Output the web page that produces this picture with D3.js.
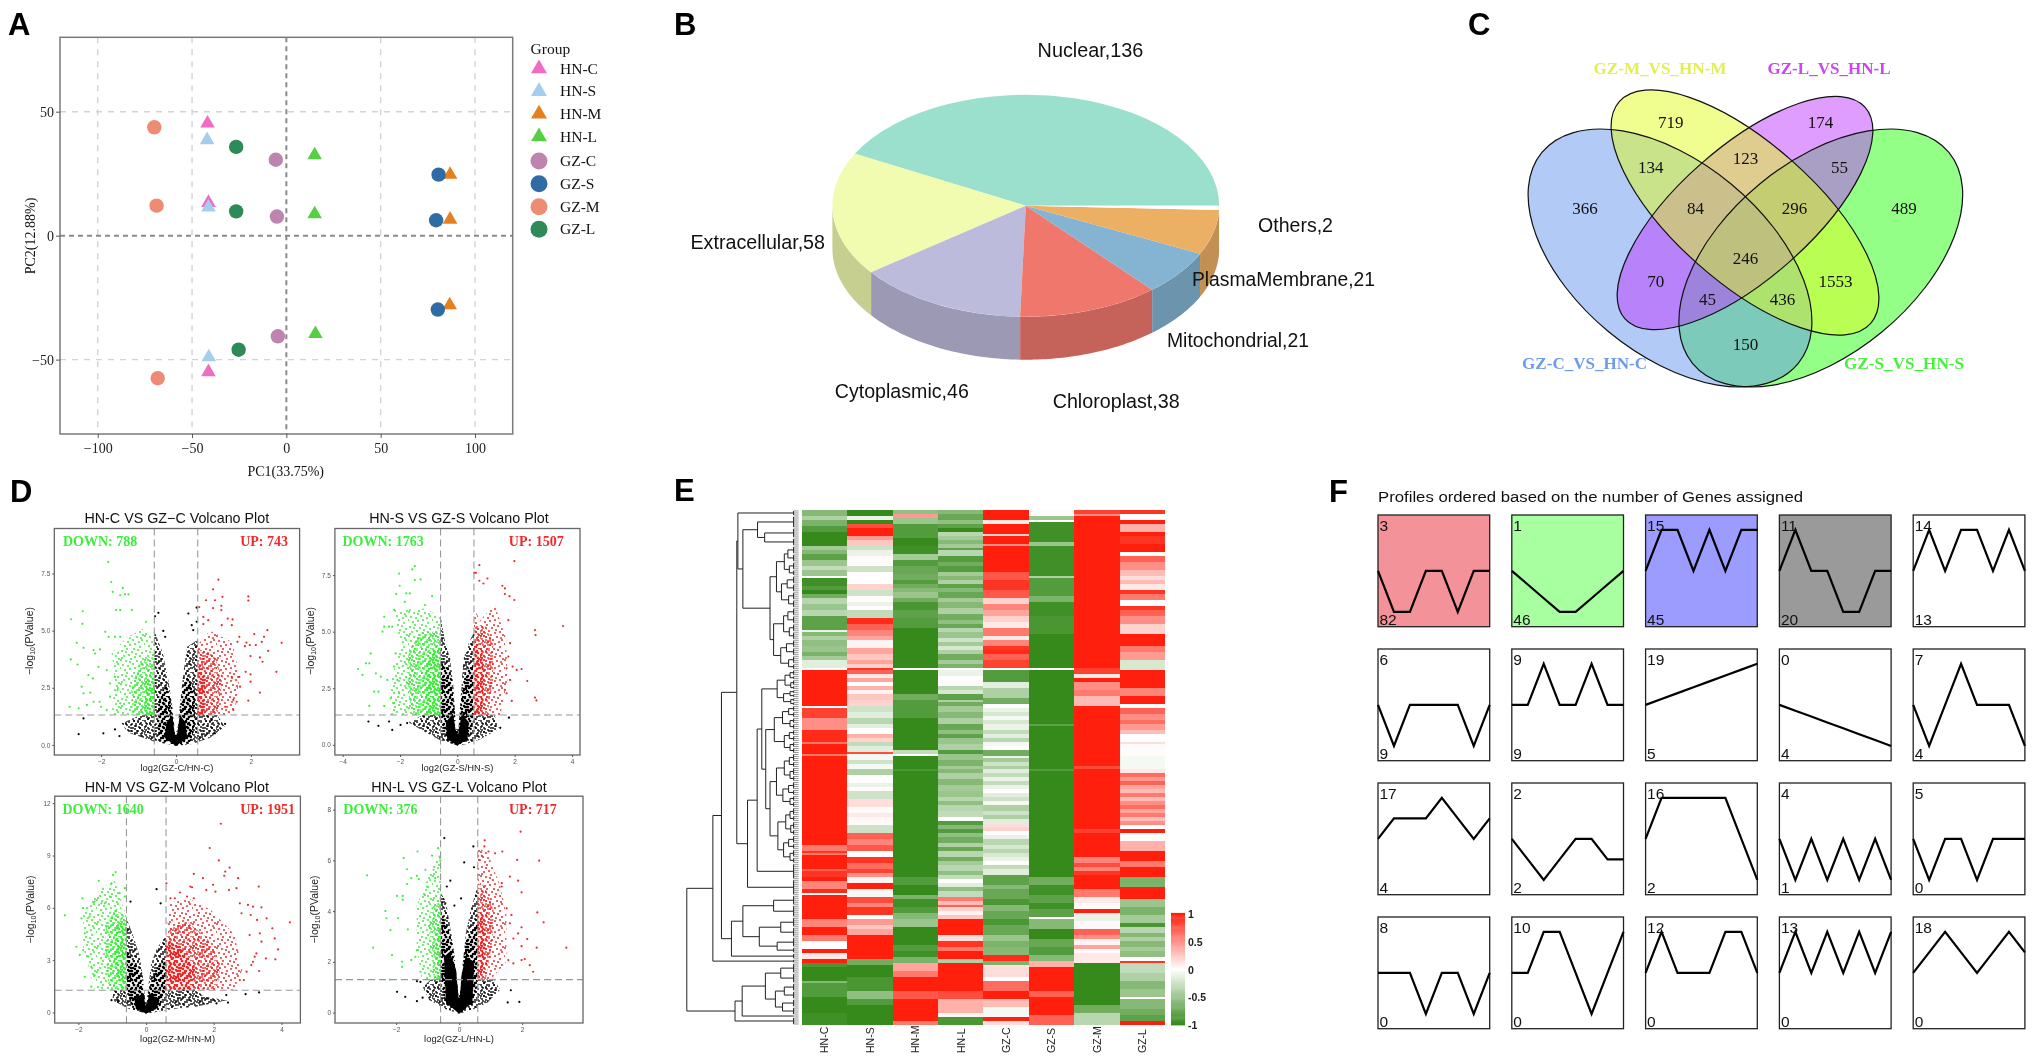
<!DOCTYPE html>
<html><head><meta charset="utf-8">
<style>
html,body{margin:0;padding:0;background:#fff}
svg{display:block;filter:blur(0.35px)}
text{font-family:"Liberation Sans",Arial,sans-serif;fill:#111}
.serif text,text.serif{font-family:"Liberation Serif",serif}
</style>
<script src="https://cdn.jsdelivr.net/npm/d3@7"></script>
</head><body><svg id="c" width="2033" height="1058"></svg>
<script>
// ---------- Panel A data ----------
const pcaGroups=["HN-C","HN-S","HN-M","HN-L","GZ-C","GZ-S","GZ-M","GZ-L"];
const pcaColors=["#F06CC4","#A5CEEE","#E67F1E","#57CF45","#BC84AE","#2F6CA6","#EE8B75","#2E8B57"];
const pcaPc1=[[-41.8,-41.3,-41.3],[-42,-41.3,-41.1],[86.8,86.8,86.6],[15,15,15.4],[-5.6,-5,-4.5],[80.7,79.4,80.3],[-70,-68.8,-68.2],[-26.6,-26.6,-25.3]];
const pcaPc2=[[45.3,13.3,-55],[38.6,11.4,-49],[24.6,6.5,-28],[32.5,8.7,-39.6],[30.6,7.7,-40.6],[24.6,6.2,-29.8],[43.7,12.1,-57.5],[35.8,9.8,-46]];
const pcaXTicks=[-100,-50,0,50,100];
const pcaYTicks=[-50,0,50];
// ---------- Panel B data ----------
const pieLabels=["Nuclear","Extracellular","Cytoplasmic","Chloroplast","Mitochondrial","PlasmaMembrane","Others"];
const pieValues=[136,58,46,38,21,21,2];
const pieColors=["#9BE0CC","#F1FCB0","#BDBBDC","#F0776C","#84B4D2","#EBB064","#FFFFFF"];
// ---------- Panel C data ----------
const vennLabels=["GZ-C_VS_HN-C","GZ-M_VS_HN-M","GZ-L_VS_HN-L","GZ-S_VS_HN-S"];
const vennNumbers=[719,174,134,123,55,366,84,296,489,246,70,1553,45,436,150];
// ---------- Panel D data (log2FC, -log10 P) ----------
const v1GreenPts=[[-1.81,8],[-1.73,7.13],[-1.42,6.87],[-1.69,6.7],[-1.49,6.55],[-1.36,6.59],[-1.27,6.59],[-2.49,5.85],[-1.6,5.9],[-1.49,5.9],[-1.18,5.9],[-2.8,5.5],[-2.5,5.3],[-.8,5.39],[-2.65,4.47],[-2.47,4.25],[-2.81,3.74],[-2.63,3.52],[-2.2,4.15],[-2.03,4.18],[-1.89,4.95],[-1.8,4.73],[-1.63,4.73],[-1.49,4.73],[-2.16,4],[-2.07,3.42],[-2.34,3.06],[-2.22,2.91],[-2.52,2.55],[-2.47,2.26],[-2.29,2.29],[-2.84,1.67],[-2.6,1.6],[-2.2,1.89],[-2.04,1.89],[-2,1.67],[-2.38,1.75],[-1.85,3.28],[-1.76,2.69],[-1.76,2.11],[-1.85,1.53],[-1.63,2.98],[-1.56,2.4],[-1.49,1.82]];
const v1RedPts=[[1.13,7.23],[.99,6.81],[1.93,6.5],[1.93,6.32],[1.24,6.48],[1.04,6.33],[.8,6.33],[.99,5.99],[1.21,6.09],[1.21,5.9],[.62,6.03],[.73,5.6],[.86,5.46],[.73,5.29],[1.38,5.53],[1.51,5.49],[1.22,5.24],[1.49,5.24],[2.44,5.02],[2.09,4.85],[2.35,4.73],[2.29,4.51],[2.82,4.47],[1.88,4.48],[1.97,4.37],[1.84,4.32],[2.13,4.37],[1.69,4.73],[1.64,4.51],[2.46,4.12],[1.99,3.89],[2.24,3.83],[2.31,3.64],[2.68,3.2],[2.24,2.29],[1.93,1.94],[1.86,3.2],[1.69,2.98],[1.99,3.09],[1.99,2.77],[1.71,2.55],[1.49,2.98],[1.53,1.97],[1.62,1.89],[1.53,1.53],[1.31,1.67]];
const v1BlackPts=[[-2.47,1.16],[-2.6,.47],[-1.94,.51],[-1.63,.68],[-1.51,.39],[-.56,5.63],[-.47,5.78],[-.34,4.99],[-.29,4.73],[.33,5.75],[.55,6.01],[.42,5.24],[.46,5.02],[.55,5.39],[1.31,.92],[1.04,.51],[.95,1.09]];
const v1GreenCloud=[[-.58,1.31],[-1.72,1.31],[-1.63,2.9],[-1.72,4],[-1.32,4.7],[-.87,5.1],[-.58,4.6]];
const v1GreenCore=[[-.58,1.31],[-1.15,1.31],[-1.2,2.4],[-1,3.5],[-.58,4]];
const v1GreenDense=[[-.58,1.31],[-.85,1.31],[-.8,2.9],[-.58,3]];
const v1RedCloud=[[.58,1.31],[1.55,1.31],[1.7,3],[1.5,4.5],[.9,5],[.58,4.4]];
const v1RedCore=[[.58,1.31],[1.1,1.31],[1.25,2.9],[1,4],[.58,4.2]];
const v1RedDense=[[.58,1.31],[.75,1.31],[.8,3.2],[.58,3.4]];
const v1BlackCloud=[[0,-.03],[-.6,.15],[-1.3,.55],[-1.45,.95],[-.95,1.31],[-.58,1.31],[-.58,5],[-.35,4],[-.2,2.8],[-.1,1.7],[-.03,.6],[.03,.6],[.1,1.7],[.2,3.2],[.3,4.3],[.58,4.6],[.58,1.31],[1.1,1.31],[1.3,.8],[.9,.3],[.4,.03]];
const v1BlackCore=[[-.03,.5],[-.15,2],[-.25,2.6],[-.45,2.2],[-.5,.8],[-.4,.15],[0,-.03],[.4,.15],[.5,.9],[.5,2.4],[.3,3],[.17,2.4],[.05,.5]];
const v1BlackSolid=[[-.03,.45],[-.1,1.3],[-.25,1],[-.3,.3],[0,-.03],[.3,.3],[.25,1],[.1,1.3],[.03,.45]];

const v2GreenPts=[[-1.48,7.9],[-1.57,7.75],[-2.03,7.57],[-1.28,7.31],[-1.48,7.28],[-2.01,7.03],[-2.13,6.66],[-1.78,6.69],[-1.66,6.69],[-1.83,6.32],[-1.13,6.18],[-.88,6.57],[-2.2,5.96],[-2.55,5.22],[-2.38,5.22],[-2.61,5],[-2.27,5.22],[-2.55,5.66],[-3.02,4.04],[-3.19,3.6],[-3.07,3.6],[-3.46,3.35],[-3.31,3.09],[-2.84,3.16],[-2.67,3.01],[-2.9,2.35],[-2.75,2.35],[-3.07,1.72],[-2.55,1.72],[-2.32,2.06],[-2.44,2.87],[-2.15,4.04],[-2.21,3.46],[-2.09,2.87],[-2.03,2.28],[-2.21,1.84]];
const v2RedPts=[[1.99,8.12],[.77,7.94],[.65,7.6],[.59,7.6],[.77,7.25],[1.05,7.35],[.91,7.13],[1.57,7.03],[1.66,6.91],[1.82,6.57],[1.66,6.66],[1.99,6.4],[3.69,5.25],[2.71,5.07],[2.73,4.85],[2.24,3.35],[2.07,3.31],[1.93,3.46],[1.72,3.38],[2.44,2.82],[2.71,2.09],[2.76,1.96],[1.9,1.94],[1.66,2.43],[1.84,2.87],[1.78,5.51],[1.84,4.49],[1.78,3.9],[1.72,2.28]];
const v2BlackPts=[[-3.1,1.03],[-2.75,.84],[-2.27,.66],[-1.98,.88],[-2.38,1.03],[-1.75,.96],[1.8,1.2],[1.5,.75]];
const v2GreenCloud=[[-.58,1.32],[-2.32,1.32],[-2.32,2.87],[-1.98,4.34],[-2.2,5.96],[-1.11,6.03],[-.58,5.66]];
const v2GreenCore=[[-.58,1.32],[-1.57,1.32],[-1.8,2.87],[-1.69,4.2],[-1.23,5],[-.58,5]];
const v2GreenDense=[[-.58,1.32],[-1.1,1.32],[-1.15,3.2],[-.95,4.2],[-.58,4.3]];
const v2RedCloud=[[.59,1.32],[1.5,1.32],[1.75,2.87],[1.7,4.7],[1.3,6.2],[.8,5.5],[.59,6]];
const v2RedCore=[[.59,1.32],[1.05,1.32],[1.25,2.9],[1.25,4.5],[.95,5.3],[.59,5.3]];
const v2RedDense=[[.59,1.32],[.85,1.32],[.95,3],[.85,4.3],[.59,4.6]];
const v2BlackCloud=[[0,-.03],[-.6,.2],[-1.25,.65],[-1.7,1],[-1.2,1.32],[-.58,1.32],[-.58,5.7],[-.45,4.7],[-.25,3.8],[-.13,2.5],[-.04,.7],[.04,.7],[.14,2.5],[.22,3.8],[.4,4.5],[.59,5],[.59,1.32],[1.3,1.32],[1.45,.7],[.8,.25],[.3,.03]];
const v2BlackCore=[[-.04,.6],[-.15,2.2],[-.25,3.3],[-.55,3.6],[-.55,1],[-.35,.2],[0,-.03],[.35,.2],[.55,1],[.55,3.5],[.3,3.3],[.15,2.2],[.04,.6]];
const v2BlackSolid=[[-.04,.5],[-.15,1.4],[-.4,1],[-.35,.25],[0,-.03],[.35,.25],[.4,1],[.15,1.4],[.04,.5]];

const v3GreenPts=[[-.9,8.05],[-1.4,7.55],[-.98,7.89],[-1.02,7.41],[-2.4,5.57],[-1.88,6.55],[-1.86,5.98],[-1.52,6.36],[-1.32,6.26],[-1.91,5.4],[-1.67,5.5],[-1.81,4.54],[-2.06,3.77],[-1.86,3.58],[-1.96,3.3],[-1.71,3.2],[-1.62,2.62],[-1.52,2.13],[-1.62,1.48],[-1.81,2.05],[-.63,7.13],[-.63,6.65],[-.78,6.84],[-1.07,6.65],[-1.22,6.26]];
const v3RedPts=[[2.21,10.82],[1.88,9.43],[2.15,8.72],[2.47,8.31],[2.34,8.08],[2.31,7.84],[2.72,7.7],[1.68,7.7],[1.41,7.95],[3.33,7.22],[2.67,7.13],[2.45,7.03],[1.98,7.32],[1.78,7.03],[2.05,6.93],[1.31,7.22],[1.36,7.18],[.6,7.41],[1,6.88],[1.21,6.65],[.72,6.55],[.85,6.55],[1.41,6.55],[3.01,6.17],[3.16,6.07],[3.41,6.03],[2.77,6.26],[4.25,5.17],[3.56,5.4],[3.73,4.83],[3.28,5.31],[3.09,5.59],[2.82,5.69],[3.8,4.25],[3.9,3.62],[3.82,3.05],[3.54,3.1],[3.36,4.54],[3.41,4.06],[3.06,4.44],[3.16,2.91],[3.21,3.2],[3.11,2.72],[2.97,2.34],[3.34,2.38],[2.89,1.86],[2.77,1.86],[3.26,3.39]];
const v3BlackPts=[[-.46,6.36],[.31,7.07],[.43,6.26],[-1.02,.71],[-.83,.61],[2.08,.52],[2.42,.57],[2.94,1.05],[3.34,1.15],[2.37,1],[1.83,.8]];
const v3GreenCloud=[[-.58,1.3],[-1.52,1.3],[-1.86,3.77],[-1.86,5.88],[-1.37,7.03],[-.93,7.6],[-.58,5.5]];
const v3GreenCore=[[-.58,1.3],[-1.1,1.3],[-1.2,3.3],[-1.2,4.9],[-.9,6],[-.58,5.4]];
const v3GreenDense=[[-.58,1.3],[-.75,1.3],[-.95,3],[-.9,5],[-.58,5.2]];
const v3RedCloud=[[.59,1.3],[2.6,1.3],[2.85,2.5],[2.6,4.5],[1.9,5.9],[1.3,6.5],[.7,6.3],[.59,4.3]];
const v3RedCore=[[.59,1.3],[2.1,1.3],[2.2,2.8],[1.8,4.3],[1.2,5.2],[.7,4.8],[.59,4.3]];
const v3RedDense=[[.59,1.3],[1.4,1.3],[1.45,2.6],[1,3.8],[.59,4.2]];
const v3BlackCloud=[[0,-.05],[-.5,.2],[-1,.7],[-.95,1.3],[-.58,1.3],[-.58,5.4],[-.4,4.5],[-.2,3.3],[-.08,1.9],[-.02,.6],[.02,.6],[.08,1.7],[.15,2.8],[.3,3.6],[.59,4.5],[.59,1.3],[1.5,1.3],[1.7,.9],[2.4,.7],[1.5,.35],[.8,.2],[.3,.03]];
const v3BlackCore=[[-.02,.5],[-.1,1.6],[-.2,2.5],[-.56,3.5],[-.56,1.3],[-.4,.3],[0,-.05],[.4,.3],[.57,1.3],[.57,3.1],[.3,2.5],[.15,1.7],[.02,.5]];
const v3BlackSolid=[[-.02,.4],[-.08,1.1],[-.35,.8],[-.3,.2],[0,-.05],[.3,.2],[.4,.7],[.1,1.1],[.02,.4]];

const v4GreenPts=[[-2.92,5.41],[-.67,6.48],[-.86,6.19],[-1.32,6.35],[-1.76,6.09],[-.62,6.15],[-.6,5.99],[-1.65,5.65],[-1.52,5.3],[-1.34,5.39],[-1.28,5.26],[-1.65,5.07],[-1.97,4.6],[-1.79,4.6],[-1.79,4.44],[-2.34,4],[-2.31,3.72],[-1.94,3.72],[-2.18,3.25],[-1.63,3.28],[-2.73,2.56],[-2.13,2.27],[-1.81,2],[-1.81,1.8],[-1.52,2.07],[-1.34,2.46],[-1.23,1.61],[-1.39,2.2],[-2.2,1.3],[-1.07,5.63],[-.81,5.63],[-1.02,4.97],[-.76,5.3],[-1.09,4.64]];
const v4RedPts=[[1.95,7.13],[.81,6.79],[.8,6.55],[.93,6.35],[1.14,6.28],[1.37,6.35],[.63,6.02],[.72,6.18],[1.84,6.02],[2.54,5.99],[1.61,5.36],[1.87,5.2],[1.98,4.74],[1.35,4.97],[1.35,5.1],[2.48,3.95],[2.68,3.56],[3.4,2.56],[2.46,2.56],[2.16,2.9],[1.98,3.36],[1.72,2.92],[1.87,3.12],[1.98,2.62],[1.98,2.07],[2.08,2.11],[1.72,1.94],[2.24,1.87],[2.35,1.61],[1.56,2.07],[1.61,3.52],[1.66,3.85],[1.51,4.11]];
const v4BlackPts=[[-.47,6.88],[.45,6.55],[.16,5.92],[.47,5.73],[-.39,4.97],[-.28,5.2],[.06,4.5],[-.15,4.22],[-1.97,.82],[-1.71,.62],[-1.34,.45],[-1.16,.59],[-1.23,1.21],[-1.34,1.24],[1.54,.4],[1.91,.42],[1.64,.88]];
const v4GreenCloud=[[-.58,1.3],[-1.2,1.3],[-1.35,2.7],[-1.35,4.2],[-1.1,5],[-.75,6],[-.58,6.2]];
const v4GreenCore=[[-.58,1.3],[-.8,1.3],[-.95,2.9],[-.95,4],[-.58,4.6]];
const v4GreenDense=[[-.58,1.3],[-.68,1.3],[-.75,2.8],[-.62,3.8],[-.58,4.4]];
const v4RedCloud=[[.59,1.3],[1,1.3],[1.5,2],[1.5,3.9],[1.3,5],[.9,6.3],[.59,6.5]];
const v4RedCore=[[.59,1.3],[.85,1.3],[1.05,2.8],[1.1,4],[.8,5],[.59,5.1]];
const v4RedDense=[[.59,1.3],[.7,1.3],[.85,2.6],[.8,3.7],[.59,4.2]];
const v4BlackCloud=[[0,-.05],[-.45,.15],[-.95,.5],[-1.15,1],[-.9,1.3],[-.58,1.3],[-.58,4.7],[-.42,4.4],[-.3,3.5],[-.14,2.2],[-.02,.7],[.02,.7],[.12,2],[.22,3.2],[.38,4.1],[.59,5],[.59,1.3],[1.1,1.3],[1.3,.9],[.9,.4],[.5,.15]];
const v4BlackCore=[[-.02,.5],[-.12,1.8],[-.28,3.1],[-.55,3.9],[-.56,1.3],[-.45,.4],[0,-.05],[.45,.4],[.57,1.3],[.57,3.5],[.22,2.9],[.1,1.6],[.02,.5]];
const v4BlackSolid=[[-.02,.6],[-.1,1.7],[-.3,2.4],[-.48,2.2],[-.42,.4],[0,-.05],[.42,.4],[.48,2],[.2,2.2],[.08,1.5],[.02,.6]];

const volcanoTitles=["HN-C VS GZ\u2212C Volcano Plot","HN-S VS GZ-S Volcano Plot","HN-M VS GZ-M Volcano Plot","HN-L VS GZ-L Volcano Plot"];
const volcanoXLabels=["log2(GZ-C/HN-C)","log2(GZ-S/HN-S)","log2(GZ-M/HN-M)","log2(GZ-L/HN-L)"];
const volcanoDown=["DOWN: 788","DOWN: 1763","DOWN: 1640","DOWN: 376"];
const volcanoUp=["UP: 743","UP: 1507","UP: 1951","UP: 717"];
const volcanoXDomains=[[-3.25,3.3],[-4.27,4.28],[-2.7,4.56],[-3.94,3.93]];
const volcanoYDomains=[[-.44,9.47],[-.45,9.56],[-.6,12.4],[-.41,8.53]];
const volcanoXTicks=[[-2,0,2],[-4,-2,0,2,4],[-2,0,2,4],[-2,0,2]];
const volcanoYTicks=[[0,2.5,5,7.5],[0,2.5,5,7.5],[0,3,6,9,12],[0,2,4,6,8]];
const volcanoCuts=[[-.58,.58,1.31],[-.585,.58,1.32],[-.58,.59,1.28],[-.59,.59,1.3]];
// ---------- Panel E data: each column as [end row, value] runs ----------
const heatColumns=["HN-C","HN-S","HN-M","HN-L","GZ-C","GZ-S","GZ-M","GZ-L"];
const heatRowCount=258;
const runsHNC=[[3,-.6],[5,-.4],[8,-.65],[11,-.85],[18,-1],[20,-.45],[22,-.6],[25,-.8],[28,-.5],[30,-.3],[33,-.5],[34,0],[38,-.95],[40,-.85],[42,-1],[44,-.7],[47,-.35],[50,-.5],[53,-.35],[60,-.8],[61,-.1],[63,-.6],[65,-.4],[68,-.55],[71,-.5],[73,-.65],[75,-.45],[79,-.15],[80,0],[98,1],[99,0],[104,.85],[110,.5],[116,.95],[117,.6],[122,1],[123,.6],[168,1],[171,.6],[172,.9],[173,.6],[180,1],[181,.7],[184,.9],[186,1],[190,.55],[192,.95],[193,0],[205,1],[209,.55],[213,1],[216,.6],[220,0],[222,1],[225,.1],[227,1],[229,-.9],[236,-1],[237,-.6],[244,-.85],[252,-1],[258,-.95]];
const runsHNS=[[3,-1],[5,-.1],[7,-1],[9,.8],[13,1],[15,.45],[18,.25],[20,-.25],[23,-.1],[28,.02],[31,-.25],[37,0],[40,.2],[43,-.25],[46,.02],[48,-.1],[50,.02],[54,-.3],[57,.95],[60,.7],[63,.55],[65,.4],[69,.05],[72,.4],[75,.25],[77,.4],[79,.2],[80,.9],[82,.7],[84,.1],[86,.4],[88,0],[90,.35],[92,.05],[95,.25],[98,.2],[101,-.25],[104,-.15],[107,-.35],[109,-.15],[112,0],[114,.35],[116,.2],[118,-.3],[121,-.15],[122,.8],[125,-.05],[127,-.25],[130,-.05],[133,-.4],[137,0],[139,-.1],[141,.02],[145,-.25],[149,.15],[152,.02],[154,.1],[158,.03],[162,-.25],[165,.7],[168,.55],[171,.75],[174,0],[177,.9],[180,.65],[182,.85],[184,.5],[187,.05],[190,1],[194,-.05],[197,.8],[199,.55],[203,.9],[205,0],[208,.45],[210,.25],[213,.4],[225,1],[228,-.7],[234,-1],[241,-.9],[245,-.55],[248,-.85],[258,-1]];
const runsHNM=[[2,-.55],[4,.45],[7,-.5],[14,-.85],[18,-1],[22,-.95],[25,-.45],[28,-.85],[32,-.75],[35,-.7],[37,-.85],[39,-.7],[41,-.6],[44,-.5],[46,-.7],[50,-.9],[54,-.8],[59,-.85],[79,-1],[80,0],[92,-1],[95,-.7],[98,-.85],[104,-.85],[120,-1],[122,-.3],[123,0],[130,-1],[131,-.9],[184,-1],[188,-.85],[193,-1],[195,-.65],[199,-.95],[202,-.85],[205,-.6],[209,-.5],[218,-1],[221,-.85],[224,-.95],[227,-.65],[231,.4],[234,.6],[241,1],[245,.75],[256,1],[258,.6]];
const runsHNL=[[2,-.6],[5,-.75],[7,-.55],[9,-.8],[11,-1],[13,-.35],[15,-.45],[17,-.6],[19,-.45],[20,-.8],[23,-.35],[26,-.85],[28,-.7],[31,-.85],[33,-.45],[35,-.6],[37,-.4],[39,-.8],[41,-.6],[44,-.75],[46,-.45],[49,-.6],[52,-.4],[55,-.7],[57,-.55],[59,-.75],[61,-.35],[64,-.5],[66,-.25],[68,-.45],[70,-.2],[72,-.4],[75,-.7],[77,-.45],[79,-.65],[80,0],[83,-.1],[85,0],[88,.02],[90,-.35],[92,-.2],[95,-.8],[96,-.4],[98,-.7],[101,-.45],[104,-.6],[107,-.4],[110,-.75],[112,-.55],[114,-.8],[117,-.5],[120,-.4],[122,-.85],[125,-.5],[128,-.65],[130,-.45],[132,-.6],[135,-.4],[138,-.6],[141,-.45],[144,-.5],[146,-.35],[148,-.55],[151,-.35],[154,-.3],[156,0],[158,-.85],[160,-.6],[162,-.85],[164,-.55],[167,-.7],[169,-.4],[171,-.75],[174,-.35],[176,-.7],[178,-.45],[181,-.35],[183,-.55],[185,-.3],[187,0],[189,-.15],[191,-.55],[194,-.3],[196,.6],[198,.3],[199,.7],[201,.2],[203,.05],[205,.25],[213,1],[216,.15],[219,.9],[221,.6],[225,1],[227,-.4],[241,1],[245,.8],[252,.35],[254,.05],[258,-.9]];
const runsGZC=[[5,1],[7,.1],[12,1],[13,.2],[17,1],[18,.5],[31,1],[35,.75],[40,.9],[44,.75],[47,.2],[50,.55],[53,.4],[56,.2],[59,.1],[63,.6],[65,.1],[68,.55],[70,.9],[72,.95],[75,.7],[79,.85],[80,0],[86,-.85],[89,-.15],[94,-.4],[97,-.7],[99,0],[101,-.1],[103,-.2],[105,-.05],[107,-.2],[110,-.1],[112,-.3],[114,-.15],[116,-.35],[118,-.05],[120,0],[123,-.7],[124,-.1],[126,-.45],[128,-.25],[130,-.4],[132,-.15],[134,-.3],[136,-.1],[138,-.3],[140,-.1],[142,0],[144,-.15],[146,-.25],[148,-.05],[151,-.4],[153,-.25],[155,-.4],[157,-.15],[159,.15],[161,.2],[163,0],[165,-.1],[168,-.35],[170,-.2],[172,-.35],[174,-.2],[176,-.1],[178,0],[180,-.3],[183,-.15],[188,-.8],[190,-.6],[195,-.75],[198,-.9],[201,-.6],[205,-.75],[208,-.9],[213,-.75],[216,-.5],[219,-.65],[223,-.6],[226,.95],[228,-.65],[234,.15],[236,0],[241,.65],[245,1],[249,.3],[254,-.05],[256,1],[258,.15]];
const runsGZS=[[3,.02],[5,-.5],[6,0],[16,-.95],[18,-.5],[33,-.95],[34,-.4],[43,-.85],[46,-.65],[53,-.95],[62,-.9],[79,-1],[80,0],[107,-1],[108,-.8],[130,-1],[131,-.85],[184,-1],[188,-.7],[193,-.95],[197,-.8],[200,-.95],[204,-.8],[205,0],[210,-.6],[215,-1],[219,-.75],[223,-.85],[226,-.6],[229,.35],[241,1],[244,.7],[253,1],[258,.7]];
const runsGZM=[[2,.85],[3,.5],[79,1],[82,.85],[84,.1],[86,1],[90,.5],[93,.6],[98,.3],[128,1],[130,.8],[160,1],[162,.85],[174,1],[177,.55],[179,.8],[181,.55],[183,.9],[190,1],[194,.6],[197,.1],[200,.02],[202,1],[206,-.1],[210,.03],[213,.7],[215,.5],[218,.05],[220,.4],[222,.02],[224,.1],[227,.1],[248,-1],[252,-.7],[258,-.35]];
const runsGZL=[[2,.9],[5,0],[7,1],[11,.35],[13,1],[17,.9],[21,1],[23,0],[26,.7],[30,.5],[33,.3],[35,.15],[37,.3],[40,.1],[42,.9],[45,.6],[48,0],[50,.9],[53,.7],[57,.5],[62,.2],[68,1],[71,.6],[75,.45],[80,-.2],[89,1],[93,.55],[97,1],[99,0],[102,.7],[105,.5],[107,.65],[110,.45],[112,.3],[116,0],[117,.15],[123,.02],[130,-.05],[132,.1],[134,.65],[136,.45],[138,.7],[140,.4],[142,.3],[144,.6],[146,.3],[148,.5],[150,.65],[152,.4],[154,.6],[156,.3],[158,.5],[160,0],[162,1],[166,0],[171,.35],[176,1],[179,.6],[184,1],[189,-.65],[195,1],[199,-.5],[203,-.65],[207,-.45],[209,-.9],[212,-.35],[214,-.6],[216,-.4],[219,-.6],[221,-.45],[224,-.55],[226,0],[227,.9],[232,-.3],[236,-.4],[240,-.6],[244,-.5],[245,0],[250,-.6],[253,-.7],[256,-.8],[258,1]];
const heatRuns=[runsHNC,runsHNS,runsHNM,runsHNL,runsGZC,runsGZS,runsGZM,runsGZL];
const heatLegendTicks=[1,.5,0,-.5,-1];
// dendrogram: [merge height, left, right]; a number is a run of leaf rows
const dendroTree=[313,
 [240,
  [216,
   [173,
    [170,3,[156,[115,6,[95,5,4]],[80,[62,[40,[30,4,4],[26,4,3]],[48,[32,4,4],[28,4,4]]],[70,[42,[30,4,4],[26,4,4]],[50,[34,4,4],[28,4,3]]]]]],
    [143,[116,[103,[60,[38,[24,3,2],[22,3,2]],[42,[24,2,2],[22,2,2]]],[92,[68,[45,[28,3,3],[24,3,3]],[40,[26,3,3],[24,3,3]]],[80,[62,[40,[26,4,3],[24,4,3]],[44,[28,4,3],[24,3,3]]],[58,[36,[24,4,3],[22,4,3]],[42,[28,4,3],[24,4,3]]]]]],8],8]],
   [188,[156,[70,5,6],[110,[50,5,5],[60,5,3]]],3]],
  2],
 [178,[158,[93,[50,5,5],[65,[40,4,4],[45,4,4]]],1],4]];
// ---------- Panel F data ----------
const profileIds=[3,1,15,11,14,6,9,19,0,7,17,2,16,4,5,8,10,12,13,18];
const profileCounts=[82,46,45,20,13,9,9,5,4,4,4,2,2,1,0,0,0,0,0,0];
const profileFills=["#F4929A","#A8FFA0","#9C9CFF","#9A9A9A"];
const profileSeries=[[0,-1,-1,0,0,-1,0,0],[0,-1,-2,-3,-3,-2,-1,0],[0,1,1,0,1,0,1,1],[0,1,0,0,-1,-1,0,0],[0,1,0,1,1,0,1,0],
[0,-1,0,0,0,0,-1,0],[0,0,1,0,0,1,0,0],[0,1,2,3,4,5,6,7],[0,-1,-2,-3,-4,-5,-6,-7],[0,-1,0,1,0,0,0,-1],
[0,1,1,1,2,1,0,1],[0,-1,-2,-1,0,0,-1,-1],[0,1,1,1,1,1,0,-1],[0,-1,0,-1,0,-1,0,-1],[0,-1,0,0,-1,0,0,0],
[0,0,0,-1,0,0,-1,0],[0,0,1,1,0,-1,0,1],[0,1,0,0,0,1,1,0],[0,1,0,1,0,1,0,1],[0,1,2,1,0,1,2,1]];

const svg=d3.select("#c");
const defs=svg.append("defs");

// panel letters
[["A",8,35],["B",674,35],["C",1468,35],["D",10,502],["E",674,501],["F",1329,502]].forEach(([t,x,y])=>
 svg.append("text").attr("x",x).attr("y",y).attr("font-size",31).attr("font-weight","bold").style("fill","#000").text(t));

// ---------- A ----------
(function(){
 const g=svg.append("g").attr("class","serif");
 const L=60,R=512.7,T=37.3,B=434;
 const x=d3.scaleLinear([-120,120],[L,R]), y=d3.scaleLinear([-80,80],[B,T]);
 pcaXTicks.forEach(v=>g.append("line").attr("x1",x(v)).attr("x2",x(v)).attr("y1",T).attr("y2",B)
   .attr("stroke",v==0?"#8a8a8a":"#d4d4d4").attr("stroke-width",v==0?2:1.4).attr("stroke-dasharray",v==0?"5 4":"6 6"));
 pcaYTicks.forEach(v=>g.append("line").attr("y1",y(v)).attr("y2",y(v)).attr("x1",L).attr("x2",R)
   .attr("stroke",v==0?"#8a8a8a":"#d4d4d4").attr("stroke-width",v==0?2:1.4).attr("stroke-dasharray",v==0?"5 4":"6 6"));
 g.append("rect").attr("x",L).attr("y",T).attr("width",R-L).attr("height",B-T).attr("fill","none").attr("stroke","#7a7a7a").attr("stroke-width",1.5);
 const ax=g.append("g").attr("transform",`translate(0,${B})`).call(d3.axisBottom(x).tickValues(pcaXTicks).tickSize(4).tickPadding(5));
 const ay=g.append("g").attr("transform",`translate(${L},0)`).call(d3.axisLeft(y).tickValues(pcaYTicks).tickSize(4).tickPadding(2));
 [ax,ay].forEach(a=>{a.select(".domain").remove();a.selectAll("line").attr("stroke","#555");a.selectAll("text").attr("font-size",14).style("font-family","Liberation Serif").style("fill","#222");});
 g.append("text").attr("x",285.7).attr("y",476).attr("text-anchor","middle").attr("font-size",14).text("PC1(33.75%)");
 g.append("text").attr("transform","translate(35,236) rotate(-90)").attr("text-anchor","middle").attr("font-size",14).text("PC2(12.88%)");
 const tri=d3.symbol().type(d3.symbolTriangle).size(92)();
 const triL=d3.symbol().type(d3.symbolTriangle).size(110)();
 pcaGroups.forEach((name,i)=>{
  pcaPc1[i].forEach((v,j)=>{
   const px=x(v),py=y(pcaPc2[i][j]);
   if(i<4) g.append("path").attr("d",tri).attr("transform",`translate(${px},${py})`).attr("fill",pcaColors[i]);
   else g.append("circle").attr("cx",px).attr("cy",py).attr("r",7.2).attr("fill",pcaColors[i]);
  });
  const ly=[68.7,91.3,114,136.7,161,183.7,206.7,229.3][i];
  if(i<4) g.append("path").attr("d",triL).attr("transform",`translate(539,${ly})`).attr("fill",pcaColors[i]);
  else g.append("circle").attr("cx",539).attr("cy",ly).attr("r",8.5).attr("fill",pcaColors[i]);
  g.append("text").attr("x",560).attr("y",ly+5).attr("font-size",15.5).text(name);
 });
 g.append("text").attr("x",530.6).attr("y",53.5).attr("font-size",15.5).text("Group");
})();

// ---------- B ----------
(function(){
 const g=svg.append("g");
 const cx=1025.8,cy=205.7,rx=193.4,ry=111,depth=43;
 const arcs=d3.pie().sort(null).startAngle(Math.PI/2).endAngle(Math.PI/2-2*Math.PI)(pieValues);
 const dark=c=>{const k=d3.rgb(c);return d3.rgb(k.r*.82,k.g*.82,k.b*.82)+"";};
 const pt=(a,d)=>[cx+rx*Math.sin(a),cy-ry*Math.cos(a)+d];
 arcs.forEach((d,i)=>{
  const s=Math.min(d.startAngle,-Math.PI/2), e=Math.max(d.endAngle,-3*Math.PI/2);
  if(s<=e) return;
  const as=d3.range(0,41).map(k=>s+(e-s)*k/40);
  const poly=as.map(a=>pt(a,0)).concat(as.slice().reverse().map(a=>pt(a,depth)));
  g.append("path").attr("d",d3.line()(poly)+"Z").attr("fill",i==6?"#fff":dark(pieColors[i]));
 });
 const top=g.append("g").attr("transform",`translate(${cx},${cy}) scale(1,${ry/rx})`);
 const arc=d3.arc().innerRadius(0).outerRadius(rx);
 arcs.forEach((d,i)=>top.append("path").attr("d",arc(d)).attr("fill",pieColors[i]));
 const lp=[[1037.6,56.7],[690.5,249],[834.8,398],[1052.7,408],[1167,346.7],[1192,286],[1258,231.7]];
 pieLabels.forEach((n,i)=>g.append("text").attr("x",lp[i][0]).attr("y",lp[i][1]).attr("font-size",20.5).attr("textLength",[105.7,134.5,134,127,142,183,75][i]).attr("lengthAdjust","spacingAndGlyphs").text(n+","+pieValues[i]));
})();

// ---------- C ----------
(function(){
 const g=svg.append("g").attr("class","serif");
 const cfg=[[1820.8,258,166,96,-39.5,"#2AFF10"],[1670,258,166,96,39.5,"#6495ED"],[1745,213,160,66,-41.3,"#BF3EFF"],[1745,212.5,167.6,69.8,41.4,"#DFFD20"]];
 const fills=g.append("g"); const strokes=g.append("g");
 cfg.forEach(c=>{
  fills.append("ellipse").attr("rx",c[2]).attr("ry",c[3]).attr("transform",`translate(${c[0]},${c[1]}) rotate(${c[4]})`).attr("fill",c[5]).attr("fill-opacity",.5);
  strokes.append("ellipse").attr("rx",c[2]).attr("ry",c[3]).attr("transform",`translate(${c[0]},${c[1]}) rotate(${c[4]})`).attr("fill","none").attr("stroke","#111").attr("stroke-width",1.2);
 });
 const np=[[1670.8,122],[1820.4,122],[1650.8,167],[1745.4,158.3],[1839.6,167],[1585,208],[1695.4,208],[1794.6,208],[1904,208],[1745.4,258.3],[1655.8,281],[1835.4,281],[1707.5,299],[1782.5,299],[1745.4,344.3]];
 vennNumbers.forEach((v,i)=>g.append("text").attr("x",np[i][0]).attr("y",np[i][1]+6).attr("text-anchor","middle").attr("font-size",17).text(v));
 const lp=[[1584.6,362.7,"#6E9BEE",125],[1660,68.3,"#E2EE58",133],[1829,68.3,"#CB46F4",123],[1904,362.7,"#46F03C",120]];
 vennLabels.forEach((t,i)=>g.append("text").attr("x",lp[i][0]).attr("y",lp[i][1]+6).attr("text-anchor","middle").attr("font-size",17).attr("font-weight","bold").style("fill",lp[i][2]).attr("textLength",lp[i][3]).attr("lengthAdjust","spacingAndGlyphs").text(t));
})();

// ---------- D ----------
(function(){
 const tile=[[2,3],[7,1],[12,4],[18,2],[22,5],[4,8],[9,7],[15,9],[20,8],[1,12],[6,13],[11,11],[17,13],[23,11],[3,17],[8,18],[13,16],[19,18],[22,16],[5,22],[10,21],[15,20],[20,23],[0,20],[14,1],[10,14],[16,6],[6,4],[21,14],[2,10]];
 function pat(id,color,shifts,r){
  const p=defs.append("pattern").attr("id",id).attr("width",24).attr("height",24).attr("patternUnits","userSpaceOnUse");
  shifts.forEach(s=>tile.forEach(t=>p.append("circle").attr("cx",(t[0]+s[0])%24).attr("cy",(t[1]+s[1])%24).attr("r",r).attr("fill",color)));
 }
 const G="#3DEE3D",Rd="#EE2A2A";
 [["g",G],["r",Rd],["k","#000"]].forEach(([k,c])=>{
  pat(k+"0",c,[[0,0]],1);
  pat(k+"1",c,[[0,0],[6,7],[13,3]],.9);
  pat(k+"2",c,[[0,0],[6,7],[13,3]],1.3);
 });
 const boxes=[[54.3,299.6,528.5,755],[334.9,580,528.5,755],[54.7,300.4,796.2,1023],[335,583,796.2,1023]];
 const ttl=[[176.8,522.5],[459,522.5],[176.8,791.7],[459,791.7]];
 const downX=[63,342.5,62.4,343.3],upX=[288,563.7,295,556.8];
 const yLab=[[33.3,641],[313.8,641],[34.4,909.5],[318,909.5]];
 const ms=[
  [v1GreenCloud,v1GreenCore,v1GreenDense,v1RedCloud,v1RedCore,v1RedDense,v1BlackCloud,v1BlackCore,v1BlackSolid,v1GreenPts,v1RedPts,v1BlackPts],
  [v2GreenCloud,v2GreenCore,v2GreenDense,v2RedCloud,v2RedCore,v2RedDense,v2BlackCloud,v2BlackCore,v2BlackSolid,v2GreenPts,v2RedPts,v2BlackPts],
  [v3GreenCloud,v3GreenCore,v3GreenDense,v3RedCloud,v3RedCore,v3RedDense,v3BlackCloud,v3BlackCore,v3BlackSolid,v3GreenPts,v3RedPts,v3BlackPts],
  [v4GreenCloud,v4GreenCore,v4GreenDense,v4RedCloud,v4RedCore,v4RedDense,v4BlackCloud,v4BlackCore,v4BlackSolid,v4GreenPts,v4RedPts,v4BlackPts]];
 boxes.forEach((b,i)=>{
  const g=svg.append("g");
  const x=d3.scaleLinear(volcanoXDomains[i],[b[0],b[1]]), y=d3.scaleLinear(volcanoYDomains[i],[b[3],b[2]]);
  const line=d3.line().x(d=>x(d[0])).y(d=>y(d[1]));
  const m=ms[i];
  [[m[6],"k1"],[m[7],"k2"],[m[0],"g0"],[m[1],"g1"],[m[2],"g2"],[m[3],"r0"],[m[4],"r1"],[m[5],"r2"]].forEach(([poly,p])=>
   g.append("path").attr("d",line(poly)+"Z").attr("fill",`url(#${p})`));
  g.append("path").attr("d",line(m[8])+"Z").attr("fill","#000");
  [[m[9],G],[m[10],Rd],[m[11],"#000"]].forEach(([pts,c])=>pts.forEach(p=>
   g.append("circle").attr("cx",x(p[0])).attr("cy",y(p[1])).attr("r",1.1).attr("fill",c)));
  const c=volcanoCuts[i];
  [c[0],c[1]].forEach(v=>g.append("line").attr("x1",x(v)).attr("x2",x(v)).attr("y1",b[2]).attr("y2",b[3]).attr("stroke","#999").attr("stroke-width",1.1).attr("stroke-dasharray","7 4"));
  g.append("line").attr("x1",b[0]).attr("x2",b[1]).attr("y1",y(c[2])).attr("y2",y(c[2])).attr("stroke","#999").attr("stroke-width",1.1).attr("stroke-dasharray","7 4");
  g.append("rect").attr("x",b[0]).attr("y",b[2]).attr("width",b[1]-b[0]).attr("height",b[3]-b[2]).attr("fill","none").attr("stroke","#666").attr("stroke-width",1.3);
  const ax=g.append("g").attr("transform",`translate(0,${b[3]})`).call(d3.axisBottom(x).tickValues(volcanoXTicks[i]).tickFormat(d3.format("d")).tickSize(2).tickPadding(2));
  const yf=i<2?d3.format(".1f"):d3.format("d");
  const ay=g.append("g").attr("transform",`translate(${b[0]},0)`).call(d3.axisLeft(y).tickValues(volcanoYTicks[i]).tickFormat(yf).tickSize(2).tickPadding(2));
  [ax,ay].forEach(a=>{a.select(".domain").remove();a.selectAll("line").attr("stroke","#555");a.selectAll("text").attr("font-size",6.5).style("fill","#555");});
  g.append("text").attr("x",ttl[i][0]).attr("y",ttl[i][1]).attr("text-anchor","middle").attr("font-size",14.3).text(volcanoTitles[i]);
  g.append("text").attr("x",(b[0]+b[1])/2).attr("y",i<2?771:1042).attr("text-anchor","middle").attr("font-size",9.4).style("fill","#222").text(volcanoXLabels[i]);
  const yl=g.append("text").attr("transform",`translate(${yLab[i][0]},${yLab[i][1]}) rotate(-90)`).attr("text-anchor","middle").attr("font-size",10.5).style("fill","#222");
  yl.append("tspan").text("\u2212log");
  yl.append("tspan").attr("dy",2).attr("font-size",7).text("10");
  yl.append("tspan").attr("dy",-2).text("(PValue)");
  g.append("text").attr("class","serif").attr("x",downX[i]).attr("y",i<2?546:814).attr("font-size",14).attr("font-weight","bold").style("fill",G).text(volcanoDown[i]);
  g.append("text").attr("class","serif").attr("x",upX[i]).attr("y",i<2?546:814).attr("text-anchor","end").attr("font-size",14).attr("font-weight","bold").style("fill",Rd).text(volcanoUp[i]);
 });
})();

// ---------- E ----------
(function(){
 const g=svg.append("g");
 const color=d3.scaleLinear([-1,0,1],["#358A1B","#ffffff","#FF1F0C"]);
 const col=d3.scaleBand(heatColumns,[801.7,1165]);
 const row=d3.scaleBand(d3.range(heatRowCount),[510,1025]);
 const cells=g.append("g").attr("shape-rendering","crispEdges");
 heatRuns.forEach((runs,ci)=>{
  let r=0;
  runs.forEach(([end,v])=>{
   for(;r<end&&r<heatRowCount;r++) cells.append("rect").attr("x",col(heatColumns[ci])).attr("y",row(r)).attr("width",col.bandwidth()).attr("height",row.bandwidth()+.4).attr("fill",color(v));
  });
 });
 heatColumns.forEach(n=>g.append("text").attr("transform",`translate(${col(n)+col.bandwidth()/2+4},1053) rotate(-90)`).attr("font-size",10.5).style("fill","#222").text(n));
 // colour key
 const ky=d3.scaleLinear([-1,1],[1025,914]);
 d3.range(-1,1.0001,.02).forEach(v=>g.append("rect").attr("x",1171).attr("y",ky(v)-1.1).attr("width",14).attr("height",1.5).attr("fill",color(v)));
 heatLegendTicks.forEach(v=>{
  g.append("text").attr("x",1188).attr("y",ky(v)+4).attr("font-size",10.5).attr("font-weight","bold").style("fill","#222").text(v==-1||v==-.5?"-"+Math.abs(v):v);
 });
 // dendrogram
 const hx=d3.scaleLinear([0,313],[798.6,686.8]);
 const dg=g.append("g").attr("fill","none");
 const comb=dg.append("g").attr("stroke","#8a8a8a").attr("stroke-width",.9);
 const lines=dg.append("g").attr("stroke","#222").attr("stroke-width",1);
 let cursor=0; const leafH=14;
 function lay(n){
  if(typeof n==="number"){
   const ys=d3.range(cursor,cursor+n).map(r=>row(r)+row.bandwidth()/2); cursor+=n;
   ys.forEach(yy=>comb.append("line").attr("x1",hx(leafH)).attr("x2",hx(0)).attr("y1",yy).attr("y2",yy));
   lines.append("line").attr("x1",hx(leafH)).attr("x2",hx(leafH)).attr("y1",ys[0]).attr("y2",ys[ys.length-1]);
   return {y:(ys[0]+ys[ys.length-1])/2,h:leafH};
  }
  const a=lay(n[1]),b=lay(n[2]),h=n[0];
  lines.append("path").attr("d",`M${hx(a.h)},${a.y}H${hx(h)}V${b.y}H${hx(b.h)}`);
  return {y:(a.y+b.y)/2,h};
 }
 lay(dendroTree);
})();

// ---------- F ----------
(function(){
 const g=svg.append("g");
 g.append("text").attr("x",1378).attr("y",502).attr("font-size",15.3).attr("textLength",425).attr("lengthAdjust","spacingAndGlyphs").text("Profiles ordered based on the number of Genes assigned");
 const colX=d3.scaleLinear([0,4],[1378,1913.2]), rowY=d3.scaleLinear([0,3],[515,917]);
 const w=111.7,h=111.7;
 profileIds.forEach((id,i)=>{
  const cx=colX(i%5), cy=rowY(Math.floor(i/5));
  const x=d3.scaleLinear([0,7],[cx,cx+w]);
  const s=profileSeries[i], mx=d3.max(s,Math.abs);
  const y=d3.scaleLinear([-1.36,1.36],[cy+h,cy]);
  g.append("rect").attr("x",cx).attr("y",cy).attr("width",w).attr("height",h).attr("fill",i<4?profileFills[i]:"#fff").attr("stroke","#222").attr("stroke-width",1.3);
  g.append("path").attr("d",d3.line().x((d,k)=>x(k)).y(d=>y(d/mx))(s)).attr("fill","none").attr("stroke","#000").attr("stroke-width",2.2).attr("stroke-linejoin","miter");
  g.append("text").attr("x",cx+1.5).attr("y",cy+15.5).attr("font-size",15.5).text(id);
  g.append("text").attr("x",cx+1.5).attr("y",cy+h-2).attr("font-size",15.5).text(profileCounts[i]);
 });
})();
</script></body></html>
